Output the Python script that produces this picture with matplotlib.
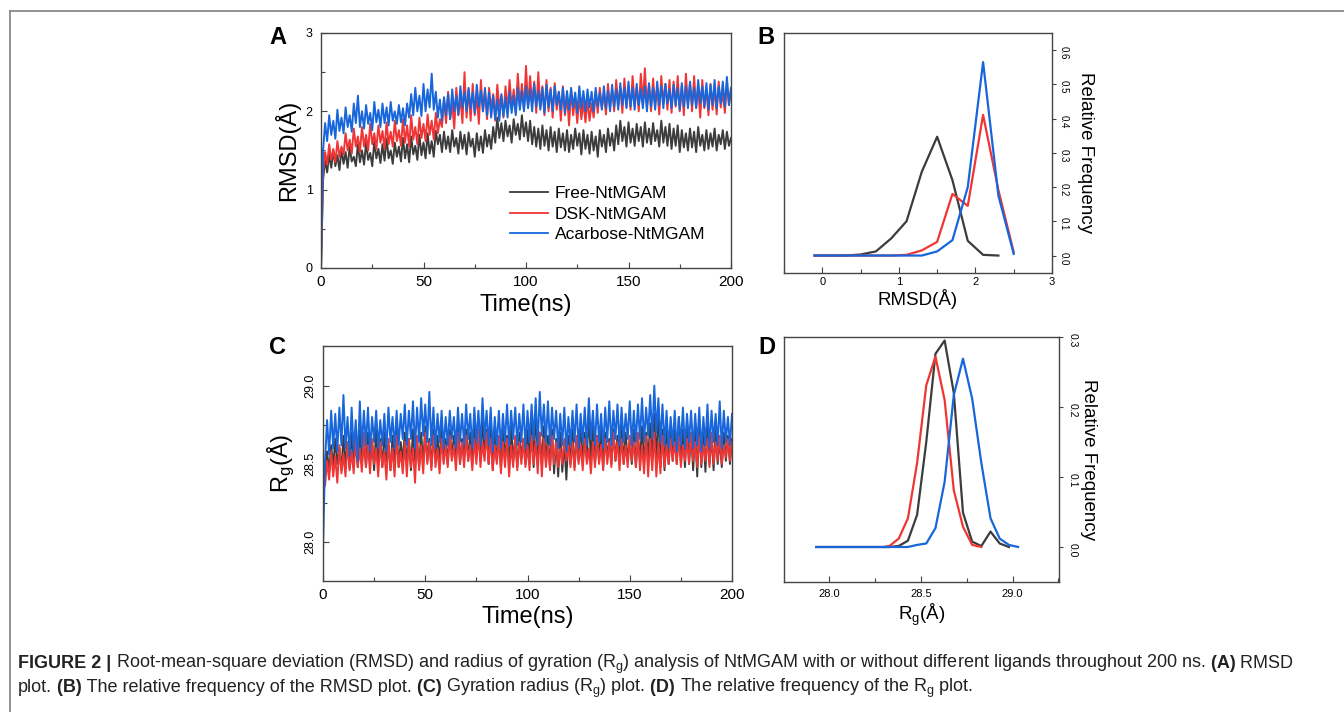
import matplotlib
matplotlib.use("Agg")
import matplotlib.pyplot as plt
import numpy as np
from matplotlib.lines import Line2D
from matplotlib.ticker import MultipleLocator

plt.rcParams['font.family'] = ['Liberation Sans', 'DejaVu Sans']
plt.rcParams['mathtext.fontset'] = 'custom'
plt.rcParams['mathtext.rm'] = 'Liberation Sans'
plt.rcParams['mathtext.it'] = 'Liberation Sans:italic'

# series names and colours
names = ["Free-NtMGAM", "DSK-NtMGAM", "Acarbose-NtMGAM"]
colors = ["#3c3c3c", "#f03535", "#1766dc"]

# ---- panel A: RMSD over time (one value per ns, 0..200) ----
rmsd_free = [0.0,
    1.12, 1.38, 1.22, 1.45, 1.28, 1.50, 1.30, 1.44, 1.25, 1.52,
    1.33, 1.48, 1.28, 1.55, 1.36, 1.42, 1.30, 1.58, 1.35, 1.50,
    1.32, 1.60, 1.38, 1.47, 1.30, 1.62, 1.40, 1.52, 1.34, 1.58,
    1.37, 1.65, 1.40, 1.50, 1.33, 1.60, 1.42, 1.55, 1.36, 1.66,
    1.40, 1.58, 1.35, 1.68, 1.45, 1.56, 1.38, 1.70, 1.44, 1.60,
    1.40, 1.72, 1.46, 1.62, 1.42, 1.75, 1.58, 1.70, 1.48, 1.74,
    1.52, 1.68, 1.48, 1.76, 1.55, 1.66, 1.46, 1.74, 1.52, 1.70,
    1.45, 1.73, 1.55, 1.65, 1.42, 1.72, 1.50, 1.68, 1.47, 1.76,
    1.55, 1.70, 1.52, 1.80, 1.60, 1.92, 1.66, 1.85, 1.62, 1.88,
    1.68, 1.82, 1.60, 1.90, 1.70, 1.84, 1.64, 1.95, 1.68, 1.86,
    1.62, 1.88, 1.58, 1.80, 1.55, 1.78, 1.52, 1.82, 1.56, 1.76,
    1.50, 1.80, 1.55, 1.74, 1.48, 1.78, 1.54, 1.72, 1.50, 1.76,
    1.48, 1.70, 1.52, 1.78, 1.56, 1.72, 1.45, 1.76, 1.52, 1.70,
    1.46, 1.74, 1.50, 1.68, 1.42, 1.76, 1.55, 1.70, 1.48, 1.78,
    1.56, 1.72, 1.50, 1.82, 1.58, 1.88, 1.62, 1.80, 1.55, 1.86,
    1.60, 1.78, 1.56, 1.84, 1.62, 1.80, 1.55, 1.86, 1.60, 1.78,
    1.58, 1.85, 1.62, 1.76, 1.55, 1.88, 1.60, 1.80, 1.56, 1.84,
    1.52, 1.78, 1.56, 1.82, 1.48, 1.76, 1.54, 1.72, 1.50, 1.78,
    1.54, 1.74, 1.48, 1.80, 1.56, 1.70, 1.50, 1.76, 1.52, 1.72,
    1.55, 1.78, 1.50, 1.70, 1.58, 1.76, 1.52, 1.74, 1.56, 1.66]

rmsd_dsk = [0.0,
    1.20, 1.48, 1.32, 1.58, 1.38, 1.52, 1.35, 1.62, 1.42, 1.55,
    1.45, 1.72, 1.50, 1.64, 1.46, 1.78, 1.55, 1.68, 1.48, 1.80,
    1.55, 1.70, 1.50, 1.84, 1.58, 1.72, 1.52, 1.82, 1.60, 1.75,
    1.52, 1.86, 1.58, 1.74, 1.55, 1.88, 1.62, 1.76, 1.56, 1.90,
    1.60, 1.82, 1.55, 1.95, 1.64, 1.80, 1.58, 1.92, 1.66, 1.84,
    1.62, 1.96, 1.70, 1.88, 1.64, 1.98, 1.72, 1.90, 1.80, 2.15,
    1.85, 2.25, 1.90, 2.10, 1.78, 2.30, 1.95, 2.18, 1.85, 2.50,
    1.92, 2.28, 1.88, 2.35, 1.95, 2.20, 1.84, 2.40, 2.00, 2.25,
    1.90, 2.30, 2.02, 2.22, 1.88, 2.34, 2.05, 2.20, 1.92, 2.32,
    2.00, 2.40, 2.05, 2.28, 1.98, 2.48, 2.08, 2.35, 2.02, 2.58,
    2.05, 2.45, 2.10, 2.38, 1.98, 2.50, 2.05, 2.32, 1.95, 2.40,
    2.00, 2.30, 1.92, 2.36, 2.02, 2.25, 1.88, 2.32, 1.95, 2.22,
    1.82, 2.28, 1.95, 2.18, 1.85, 2.20, 1.90, 2.12, 1.86, 2.15,
    1.88, 2.10, 1.92, 2.25, 1.98, 2.30, 2.05, 2.22, 1.96, 2.35,
    2.05, 2.28, 2.00, 2.40, 2.08, 2.30, 1.98, 2.42, 2.06, 2.32,
    2.02, 2.45, 2.10, 2.30, 2.00, 2.48, 2.12, 2.55, 2.05, 2.35,
    2.00, 2.42, 2.08, 2.30, 1.96, 2.45, 2.10, 2.35, 2.02, 2.40,
    1.98, 2.38, 2.06, 2.45, 2.00, 2.32, 1.95, 2.48, 2.08, 2.36,
    2.00, 2.45, 2.05, 2.30, 1.92, 2.40, 2.04, 2.28, 1.95, 2.35,
    2.02, 2.30, 1.96, 2.38, 2.05, 2.25, 1.98, 2.36, 2.08, 2.28]

rmsd_acarbose = [0.0,
    1.50, 1.85, 1.62, 1.95, 1.70, 1.88, 1.65, 2.02, 1.75, 1.92,
    1.72, 2.05, 1.80, 1.95, 1.74, 2.10, 1.85, 2.20, 1.80, 2.00,
    1.78, 2.08, 1.84, 1.98, 1.76, 2.12, 1.86, 2.02, 1.80, 2.10,
    1.85, 2.05, 1.82, 2.12, 1.88, 2.00, 1.84, 2.08, 1.86, 2.04,
    1.82, 2.10, 1.92, 2.22, 1.95, 2.30, 2.00, 2.20, 1.94, 2.35,
    2.00, 2.28, 2.05, 2.48, 2.02, 2.25, 1.92, 2.15, 1.88, 2.18,
    1.95, 2.22, 1.90, 2.28, 2.00, 2.20, 1.96, 2.32, 2.05, 2.25,
    2.00, 2.30, 2.04, 2.24, 1.98, 2.34, 2.06, 2.26, 2.00, 2.30,
    1.95, 2.24, 1.92, 2.20, 1.90, 2.15, 1.88, 2.22, 1.94, 2.18,
    1.92, 2.25, 1.98, 2.20, 1.95, 2.30, 2.02, 2.26, 2.00, 2.32,
    2.04, 2.28, 2.00, 2.35, 2.06, 2.26, 2.02, 2.30, 1.98, 2.34,
    2.05, 2.28, 2.00, 2.32, 2.08, 2.25, 2.02, 2.30, 1.98, 2.26,
    2.02, 2.30, 2.05, 2.24, 1.98, 2.32, 2.04, 2.26, 2.00, 2.28,
    2.05, 2.25, 2.00, 2.30, 2.06, 2.24, 2.02, 2.32, 2.04, 2.26,
    2.00, 2.34, 2.06, 2.28, 2.02, 2.36, 2.08, 2.30, 2.04, 2.38,
    2.06, 2.30, 2.02, 2.35, 2.08, 2.28, 2.04, 2.32, 2.00, 2.36,
    2.06, 2.30, 2.02, 2.38, 2.08, 2.32, 2.04, 2.35, 2.10, 2.28,
    2.04, 2.34, 2.08, 2.30, 2.02, 2.36, 2.06, 2.32, 2.04, 2.38,
    2.08, 2.30, 2.04, 2.40, 2.10, 2.32, 2.06, 2.36, 2.02, 2.34,
    2.08, 2.40, 2.04, 2.32, 2.10, 2.38, 2.06, 2.44, 2.08, 2.30]

# ---- panel B: RMSD distribution ----
rmsd_bins_free = [-0.1, 0.1, 0.3, 0.5, 0.7, 0.9, 1.1, 1.3, 1.5, 1.7, 1.9, 2.1, 2.3]
rmsd_freq_free = [0.0, 0.0, 0.0, 0.003, 0.012, 0.05, 0.1, 0.245, 0.347, 0.22, 0.043, 0.002, 0.0]
rmsd_bins_lig = [-0.1, 0.1, 0.3, 0.5, 0.7, 0.9, 1.1, 1.3, 1.5, 1.7, 1.9, 2.1, 2.3, 2.5]
rmsd_freq_dsk = [0.0, 0.0, 0.0, 0.0, 0.0, 0.0, 0.002, 0.015, 0.04, 0.18, 0.145, 0.411, 0.191, 0.01]
rmsd_freq_acarbose = [0.0, 0.0, 0.0, 0.0, 0.0, 0.0, 0.0, 0.0, 0.012, 0.045, 0.2, 0.565, 0.175, 0.005]

# ---- panel C: radius of gyration over time ----
rg_free = [28.38,
    28.42, 28.58, 28.45, 28.62, 28.48, 28.66, 28.50, 28.60, 28.46, 28.68,
    28.50, 28.64, 28.47, 28.70, 28.52, 28.62, 28.48, 28.72, 28.50, 28.65,
    28.48, 28.70, 28.52, 28.64, 28.46, 28.72, 28.50, 28.66, 28.48, 28.70,
    28.52, 28.62, 28.46, 28.68, 28.50, 28.72, 28.48, 28.64, 28.52, 28.70,
    28.50, 28.66, 28.46, 28.72, 28.52, 28.64, 28.48, 28.70, 28.50, 28.74,
    28.52, 28.66, 28.48, 28.72, 28.54, 28.68, 28.50, 28.74, 28.52, 28.66,
    28.50, 28.72, 28.54, 28.68, 28.52, 28.74, 28.50, 28.66, 28.54, 28.72,
    28.52, 28.70, 28.50, 28.76, 28.54, 28.68, 28.52, 28.80, 28.55, 28.72,
    28.50, 28.82, 28.46, 28.70, 28.52, 28.66, 28.48, 28.72, 28.54, 28.68,
    28.50, 28.74, 28.52, 28.66, 28.48, 28.70, 28.54, 28.66, 28.50, 28.72,
    28.52, 28.78, 28.48, 28.84, 28.55, 28.70, 28.50, 28.74, 28.52, 28.68,
    28.48, 28.72, 28.44, 28.66, 28.42, 28.70, 28.45, 28.64, 28.40, 28.68,
    28.50, 28.72, 28.48, 28.66, 28.52, 28.78, 28.50, 28.70, 28.54, 28.82,
    28.52, 28.74, 28.50, 28.68, 28.52, 28.76, 28.48, 28.70, 28.54, 28.66,
    28.50, 28.72, 28.52, 28.68, 28.54, 28.74, 28.50, 28.70, 28.52, 28.66,
    28.50, 28.72, 28.48, 28.68, 28.52, 28.74, 28.50, 28.70, 28.54, 28.76,
    28.52, 28.82, 28.50, 28.86, 28.48, 28.72, 28.46, 28.78, 28.50, 28.70,
    28.52, 28.76, 28.50, 28.80, 28.52, 28.72, 28.48, 28.76, 28.50, 28.70,
    28.46, 28.72, 28.42, 28.78, 28.48, 28.70, 28.45, 28.74, 28.50, 28.68,
    28.46, 28.72, 28.50, 28.66, 28.48, 28.70, 28.52, 28.68, 28.50, 28.66]

rg_dsk = [28.40,
    28.36, 28.52, 28.40, 28.58, 28.42, 28.55, 28.38, 28.62, 28.44, 28.56,
    28.42, 28.64, 28.46, 28.58, 28.44, 28.68, 28.48, 28.60, 28.45, 28.70,
    28.48, 28.62, 28.44, 28.66, 28.50, 28.60, 28.42, 28.64, 28.48, 28.58,
    28.40, 28.66, 28.46, 28.60, 28.42, 28.68, 28.48, 28.58, 28.44, 28.64,
    28.42, 28.66, 28.48, 28.60, 28.38, 28.68, 28.46, 28.62, 28.44, 28.70,
    28.50, 28.64, 28.46, 28.68, 28.48, 28.60, 28.44, 28.66, 28.50, 28.62,
    28.48, 28.68, 28.52, 28.62, 28.46, 28.70, 28.50, 28.64, 28.48, 28.68,
    28.52, 28.62, 28.46, 28.66, 28.50, 28.72, 28.48, 28.64, 28.52, 28.70,
    28.50, 28.66, 28.46, 28.62, 28.50, 28.68, 28.44, 28.64, 28.48, 28.66,
    28.42, 28.62, 28.48, 28.68, 28.46, 28.64, 28.50, 28.66, 28.48, 28.62,
    28.46, 28.68, 28.50, 28.64, 28.44, 28.70, 28.42, 28.66, 28.48, 28.62,
    28.46, 28.68, 28.50, 28.64, 28.48, 28.60, 28.50, 28.66, 28.52, 28.62,
    28.48, 28.64, 28.46, 28.68, 28.50, 28.62, 28.46, 28.66, 28.50, 28.60,
    28.44, 28.64, 28.48, 28.68, 28.50, 28.62, 28.46, 28.66, 28.50, 28.64,
    28.48, 28.70, 28.52, 28.64, 28.46, 28.66, 28.50, 28.62, 28.48, 28.68,
    28.52, 28.64, 28.48, 28.70, 28.46, 28.62, 28.44, 28.68, 28.42, 28.66,
    28.46, 28.70, 28.42, 28.64, 28.44, 28.68, 28.48, 28.62, 28.50, 28.66,
    28.52, 28.64, 28.50, 28.68, 28.48, 28.62, 28.52, 28.66, 28.50, 28.70,
    28.52, 28.64, 28.48, 28.68, 28.50, 28.62, 28.52, 28.66, 28.48, 28.70,
    28.50, 28.64, 28.52, 28.68, 28.50, 28.62, 28.54, 28.66, 28.52, 28.64]

rg_acarbose = [27.95,
    28.52, 28.78, 28.56, 28.84, 28.60, 28.82, 28.58, 28.86, 28.62, 28.94,
    28.60, 28.80, 28.55, 28.86, 28.58, 28.78, 28.52, 28.90, 28.60, 28.84,
    28.62, 28.86, 28.58, 28.80, 28.64, 28.84, 28.60, 28.78, 28.62, 28.82,
    28.58, 28.86, 28.64, 28.80, 28.60, 28.84, 28.62, 28.82, 28.66, 28.88,
    28.62, 28.84, 28.66, 28.90, 28.60, 28.86, 28.64, 28.92, 28.68, 28.88,
    28.64, 28.96, 28.62, 28.86, 28.60, 28.82, 28.64, 28.84, 28.60, 28.80,
    28.62, 28.84, 28.66, 28.80, 28.60, 28.86, 28.64, 28.82, 28.62, 28.88,
    28.66, 28.82, 28.60, 28.86, 28.64, 28.84, 28.62, 28.92, 28.66, 28.84,
    28.62, 28.86, 28.58, 28.80, 28.62, 28.84, 28.60, 28.82, 28.64, 28.88,
    28.62, 28.84, 28.66, 28.86, 28.62, 28.82, 28.64, 28.88, 28.60, 28.84,
    28.64, 28.88, 28.66, 28.92, 28.62, 28.96, 28.68, 28.88, 28.64, 28.90,
    28.62, 28.86, 28.66, 28.84, 28.60, 28.82, 28.62, 28.86, 28.58, 28.80,
    28.62, 28.84, 28.64, 28.88, 28.60, 28.82, 28.64, 28.86, 28.62, 28.92,
    28.66, 28.84, 28.62, 28.88, 28.64, 28.82, 28.60, 28.86, 28.64, 28.90,
    28.62, 28.84, 28.66, 28.88, 28.62, 28.86, 28.64, 28.82, 28.66, 28.90,
    28.62, 28.84, 28.64, 28.88, 28.66, 28.92, 28.64, 28.86, 28.68, 28.94,
    28.66, 29.00, 28.70, 28.92, 28.64, 28.88, 28.62, 28.84, 28.60, 28.80,
    28.62, 28.84, 28.58, 28.80, 28.62, 28.86, 28.60, 28.82, 28.64, 28.84,
    28.60, 28.82, 28.62, 28.86, 28.58, 28.80, 28.62, 28.88, 28.60, 28.84,
    28.64, 28.82, 28.62, 28.90, 28.60, 28.84, 28.64, 28.80, 28.62, 28.82]

# ---- panel D: Rg distribution ----
rg_bins_free = [27.93, 28.33, 28.38, 28.43, 28.48, 28.53, 28.58, 28.63, 28.68, 28.73,
                28.78, 28.83, 28.88, 28.93, 28.98]
rg_freq_free = [0.0, 0.0, 0.0015, 0.009, 0.046, 0.15, 0.276, 0.295, 0.22, 0.049,
                0.0076, 0.0014, 0.022, 0.005, 0.0]
rg_bins_dsk = [28.30, 28.33, 28.38, 28.43, 28.48, 28.53, 28.58, 28.63, 28.68, 28.73, 28.78, 28.83]
rg_freq_dsk = [0.0, 0.0015, 0.012, 0.041, 0.12, 0.231, 0.272, 0.21, 0.081, 0.029, 0.003, 0.0]
rg_bins_acarbose = [27.93, 28.43, 28.48, 28.53, 28.58, 28.63, 28.68, 28.73, 28.78, 28.83,
                    28.88, 28.93, 28.98, 29.03]
rg_freq_acarbose = [0.0, 0.0, 0.003, 0.005, 0.027, 0.093, 0.217, 0.269, 0.212, 0.12,
                    0.041, 0.012, 0.003, 0.0]

time_ns = np.arange(len(rmsd_free))

W, H = 1344, 712
fig = plt.figure(figsize=(W / 100, H / 100), dpi=100)


def px_axes(left, top, right, bottom):
    return fig.add_axes([left / W, 1 - bottom / H, (right - left) / W, (bottom - top) / H])


def style_axes(ax):
    for s in ax.spines.values():
        s.set_color("#444444")
        s.set_linewidth(1.0)
    ax.tick_params(which="both", direction="in", color="#444444", width=0.8)
    ax.tick_params(which="major", length=4)
    ax.tick_params(which="minor", length=3)


# ---------- A ----------
axA = px_axes(321, 33, 731, 268)
style_axes(axA)
for y, c, n in zip([rmsd_free, rmsd_dsk, rmsd_acarbose], colors, names):
    axA.plot(time_ns, y, color=c, lw=1.4, label=n)
axA.set_xlim(0, 200)
axA.set_ylim(0, 3)
axA.xaxis.set_major_locator(MultipleLocator(50))
axA.xaxis.set_minor_locator(MultipleLocator(25))
axA.yaxis.set_major_locator(MultipleLocator(1))
axA.yaxis.set_minor_locator(MultipleLocator(0.5))
axA.tick_params(axis="x", labelsize=11, pad=5)
axA.tick_params(axis="y", labelsize=9, pad=6)
axA.set_xlabel("Time(ns)", fontsize=17, labelpad=4)
axA.set_ylabel("RMSD(Å)", fontsize=17, labelpad=4)
leg = axA.legend(loc="upper left", bbox_to_anchor=(0.46, 0.35), frameon=False,
                 fontsize=12.5, handlelength=2.2, handletextpad=0.4,
                 labelspacing=0.32, borderpad=0, borderaxespad=0)
for h in leg.get_lines():
    h.set_linewidth(1.3)

# ---------- B ----------
axB = px_axes(784, 33, 1052, 273)
style_axes(axB)
axB.plot(rmsd_bins_free, rmsd_freq_free, color=colors[0], lw=1.6)
axB.plot(rmsd_bins_lig, rmsd_freq_dsk, color=colors[1], lw=1.6)
axB.plot(rmsd_bins_lig, rmsd_freq_acarbose, color=colors[2], lw=1.6)
axB.set_xlim(-0.5, 3)
axB.set_ylim(-0.051, 0.65)
axB.xaxis.set_major_locator(MultipleLocator(1))
axB.xaxis.set_minor_locator(MultipleLocator(0.5))
axB.yaxis.set_major_locator(MultipleLocator(0.1))
axB.yaxis.tick_right()
axB.yaxis.set_label_position("right")
axB.yaxis.set_major_formatter(matplotlib.ticker.FormatStrFormatter("%.1f"))
axB.tick_params(axis="y", direction="out", length=3, labelsize=7, labelrotation=-90, pad=2)
axB.tick_params(axis="x", labelsize=8, pad=3)
axB.set_xlabel("RMSD(Å)", fontsize=13.5, labelpad=1)
axB.set_ylabel("Relative Frequency", fontsize=13.5, rotation=-90, labelpad=18)

# ---------- C ----------
axC = px_axes(323, 346, 732, 581)
style_axes(axC)
for y, c in zip([rg_free, rg_dsk, rg_acarbose], colors):
    axC.plot(time_ns, y, color=c, lw=1.4)
axC.set_xlim(0, 200)
axC.set_ylim(27.753, 29.253)
axC.xaxis.set_major_locator(MultipleLocator(50))
axC.xaxis.set_minor_locator(MultipleLocator(25))
axC.yaxis.set_major_locator(MultipleLocator(0.5))
axC.yaxis.set_minor_locator(MultipleLocator(0.25))
axC.yaxis.set_major_formatter(matplotlib.ticker.FormatStrFormatter("%.1f"))
axC.tick_params(axis="x", labelsize=11, pad=5)
axC.tick_params(axis="y", labelsize=9, labelrotation=90, pad=5)
for lab in axC.get_yticklabels():
    lab.set_va("center")
axC.set_xlabel("Time(ns)", fontsize=17, labelpad=3)
axC.set_ylabel("R$_\\mathrm{g}$(Å)", fontsize=17, labelpad=5)

# ---------- D ----------
axD = px_axes(784, 337, 1059, 582)
style_axes(axD)
axD.plot(rg_bins_free, rg_freq_free, color=colors[0], lw=1.6)
axD.plot(rg_bins_dsk, rg_freq_dsk, color=colors[1], lw=1.6)
axD.plot(rg_bins_acarbose, rg_freq_acarbose, color=colors[2], lw=1.6)
axD.set_xlim(27.755, 29.253)
axD.set_ylim(-0.05, 0.3)
axD.xaxis.set_major_locator(MultipleLocator(0.5))
axD.xaxis.set_minor_locator(MultipleLocator(0.25))
axD.xaxis.set_major_formatter(matplotlib.ticker.FormatStrFormatter("%.1f"))
axD.yaxis.set_major_locator(MultipleLocator(0.1))
axD.yaxis.set_major_formatter(matplotlib.ticker.FormatStrFormatter("%.1f"))
axD.yaxis.tick_right()
axD.yaxis.set_label_position("right")
axD.tick_params(axis="y", direction="out", length=3, labelsize=7.5, labelrotation=-90, pad=3)
axD.tick_params(axis="x", labelsize=8, pad=5)
axD.set_xlabel("R$_\\mathrm{g}$(Å)", fontsize=13.5, labelpad=2)
axD.set_ylabel("Relative Frequency", fontsize=13.5, rotation=-90, labelpad=14)

# panel letters
for letter, x, y in [("A", 278, 38), ("B", 766, 38), ("C", 278, 347), ("D", 767, 348)]:
    fig.text(x / W, 1 - y / H, letter, fontsize=17, fontweight="bold", ha="center", va="center")

# frame lines around the figure area
fig.add_artist(Line2D([9.5 / W, 1], [1 - 10.5 / H, 1 - 10.5 / H], color="#8a8a8a", lw=1.3))
fig.add_artist(Line2D([9.5 / W, 9.5 / W], [0, 1 - 10.5 / H], color="#8a8a8a", lw=1.3))

# caption, bold and regular pieces chained one after another
caption = [
    [("FIGURE 2 |", "bold"), (" Root-mean-square deviation (RMSD) and radius of gyration (R$_\\mathrm{g}$) analysis of NtMGAM with or without different ligands throughout 200 ns.", "normal"),
     (" (A)", "bold"), (" RMSD", "normal")],
    [("plot.", "normal"), (" (B)", "bold"), (" The relative frequency of the RMSD plot.", "normal"),
     (" (C)", "bold"), (" Gyration radius (R$_\\mathrm{g}$) plot.", "normal"), (" (D)", "bold"),
     (" The relative frequency of the R$_\\mathrm{g}$ plot.", "normal")],
]
for row, base_y in zip(caption, [668, 692]):
    prev = None
    for txt, wt in row:
        if prev is None:
            prev = fig.text(18 / W, 1 - base_y / H, txt, fontsize=13.0, fontweight=wt,
                            va="baseline", color="#222222")
        else:
            prev = fig.add_artist(matplotlib.text.Annotation(
                txt, xy=(1, 1 - base_y / H), xycoords=(prev, "figure fraction"),
                fontsize=13.0, fontweight=wt, va="baseline", color="#222222"))

fig.savefig("out.png", dpi=100)
